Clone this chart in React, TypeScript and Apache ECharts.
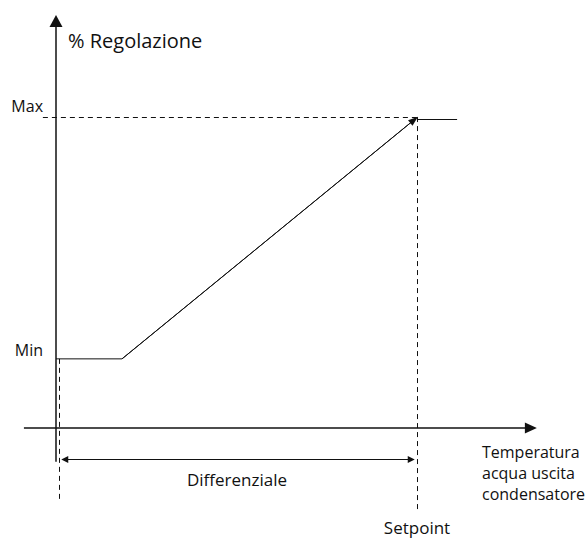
import React, { useEffect, useRef } from "react";
import * as echarts from "echarts";

// Regulation curve (temperature units, % regulation)
const curveX = [-0.84, 17.6, 99.2];
const curveY = [22.3, 22.3, 99.4];
const maxPlateauX = [100, 111.2];
const maxPlateauY = [99.6, 99.6];
// Reference levels
const minLevel = 22.3;
const maxLevel = 100.3;
const diffStartX = 0;
const setpointX = 100;
// Axes extents
const hAxisX = [-9.8, 131.8];
const vAxisX = -0.84;
const vAxisY = [-10.9, 131.3];
// Dashed guides lower ends
const maxGuideStartX = -4.5;
const diffGuideBottomY = -23.9;
const setpointGuideBottomY = -26.5;
// Differential arrow
const diffArrowY = -10.2;
const diffArrowX = [1.6, 98.4];

const INK = "#111111";
const FONT = "'Open Sans', 'Noto Sans', sans-serif";

function seg(x1: number, y1: number, x2: number, y2: number, opts: any = {}) {
  const { s1 = "none", s2 = "none", size1 = 8, size2 = 8, width = 1, type = "solid" } = opts;
  return [
    { coord: [x1, y1], symbol: s1, symbolSize: size1, lineStyle: { color: INK, width, type } },
    { coord: [x2, y2], symbol: s2, symbolSize: size2 },
  ];
}

export default function App() {
  const ref = useRef<HTMLDivElement>(null);
  useEffect(() => {
    if (!ref.current) return;
    const chart = echarts.init(ref.current, undefined, { renderer: "svg" });
    const dash = [5, 4];
    const lines = [
      // axes
      seg(hAxisX[0], 0, hAxisX[1], 0, { s2: "triangle", size2: [11, 12], width: 1.5 }),
      seg(vAxisX, vAxisY[0], vAxisX, vAxisY[1], { s2: "triangle", size2: [13, 12], width: 1.5 }),
      // dashed guides
      seg(maxGuideStartX, maxLevel, setpointX, maxLevel, { type: dash }),
      seg(setpointX, maxLevel, setpointX, setpointGuideBottomY, { type: dash }),
      seg(diffStartX, minLevel, diffStartX, diffGuideBottomY, { type: dash }),
      // ramp arrowhead
      seg(curveX[1], curveY[1], curveX[2], curveY[2], { s2: "triangle", size2: [7, 10] }),
      // max plateau
      seg(maxPlateauX[0], maxPlateauY[0], maxPlateauX[1], maxPlateauY[1]),
      // differential double arrow
      seg(diffArrowX[0], diffArrowY, diffArrowX[1], diffArrowY, {
        s1: "triangle",
        s2: "triangle",
        size1: [7, 7],
        size2: [7, 7],
      }),
    ];
    chart.setOption({
      animation: false,
      grid: { left: 23.2, width: 519.1, top: 9.5, height: 511.5, containLabel: false },
      xAxis: { type: "value", min: -10, max: 135, show: false },
      yAxis: { type: "value", min: -30, max: 135, show: false },
      series: [
        {
          type: "line",
          data: curveX.map((x, i) => [x, curveY[i]]),
          symbol: "none",
          lineStyle: { color: INK, width: 1 },
          silent: true,
          clip: false,
          markLine: {
            silent: true,
            animation: false,
            label: { show: false },
            emphasis: { disabled: true },
            data: lines,
          },
        },
      ],
      graphic: [
        { type: "text", x: 68, y: 40, style: { text: "% Regolazione", font: `20px ${FONT}`, fill: INK, align: "left", verticalAlign: "middle" } },
        { type: "text", x: 43, y: 105.5, style: { text: "Max", font: `16px ${FONT}`, fill: INK, align: "right", verticalAlign: "middle" } },
        { type: "text", x: 43, y: 350, style: { text: "Min", font: `16px ${FONT}`, fill: INK, align: "right", verticalAlign: "middle" } },
        { type: "text", x: 237, y: 479.5, style: { text: "Differenziale", font: `17px ${FONT}`, fill: INK, align: "center", verticalAlign: "middle" } },
        { type: "text", x: 482, y: 452.4, style: { text: "Temperatura", font: `16px ${FONT}`, fill: INK, align: "left", verticalAlign: "middle" } },
        { type: "text", x: 482, y: 473.4, style: { text: "acqua uscita", font: `16px ${FONT}`, fill: INK, align: "left", verticalAlign: "middle" } },
        { type: "text", x: 482, y: 494.4, style: { text: "condensatore", font: `16px ${FONT}`, fill: INK, align: "left", verticalAlign: "middle" } },
        { type: "text", x: 417, y: 527.5, style: { text: "Setpoint", font: `17px ${FONT}`, fill: INK, align: "center", verticalAlign: "middle" } },
      ],
    });
    return () => chart.dispose();
  }, []);
  return (
    <div
      ref={ref}
      style={{ position: "fixed", left: 0, top: 0, width: 587, height: 539, background: "#fff" }}
    />
  );
}
